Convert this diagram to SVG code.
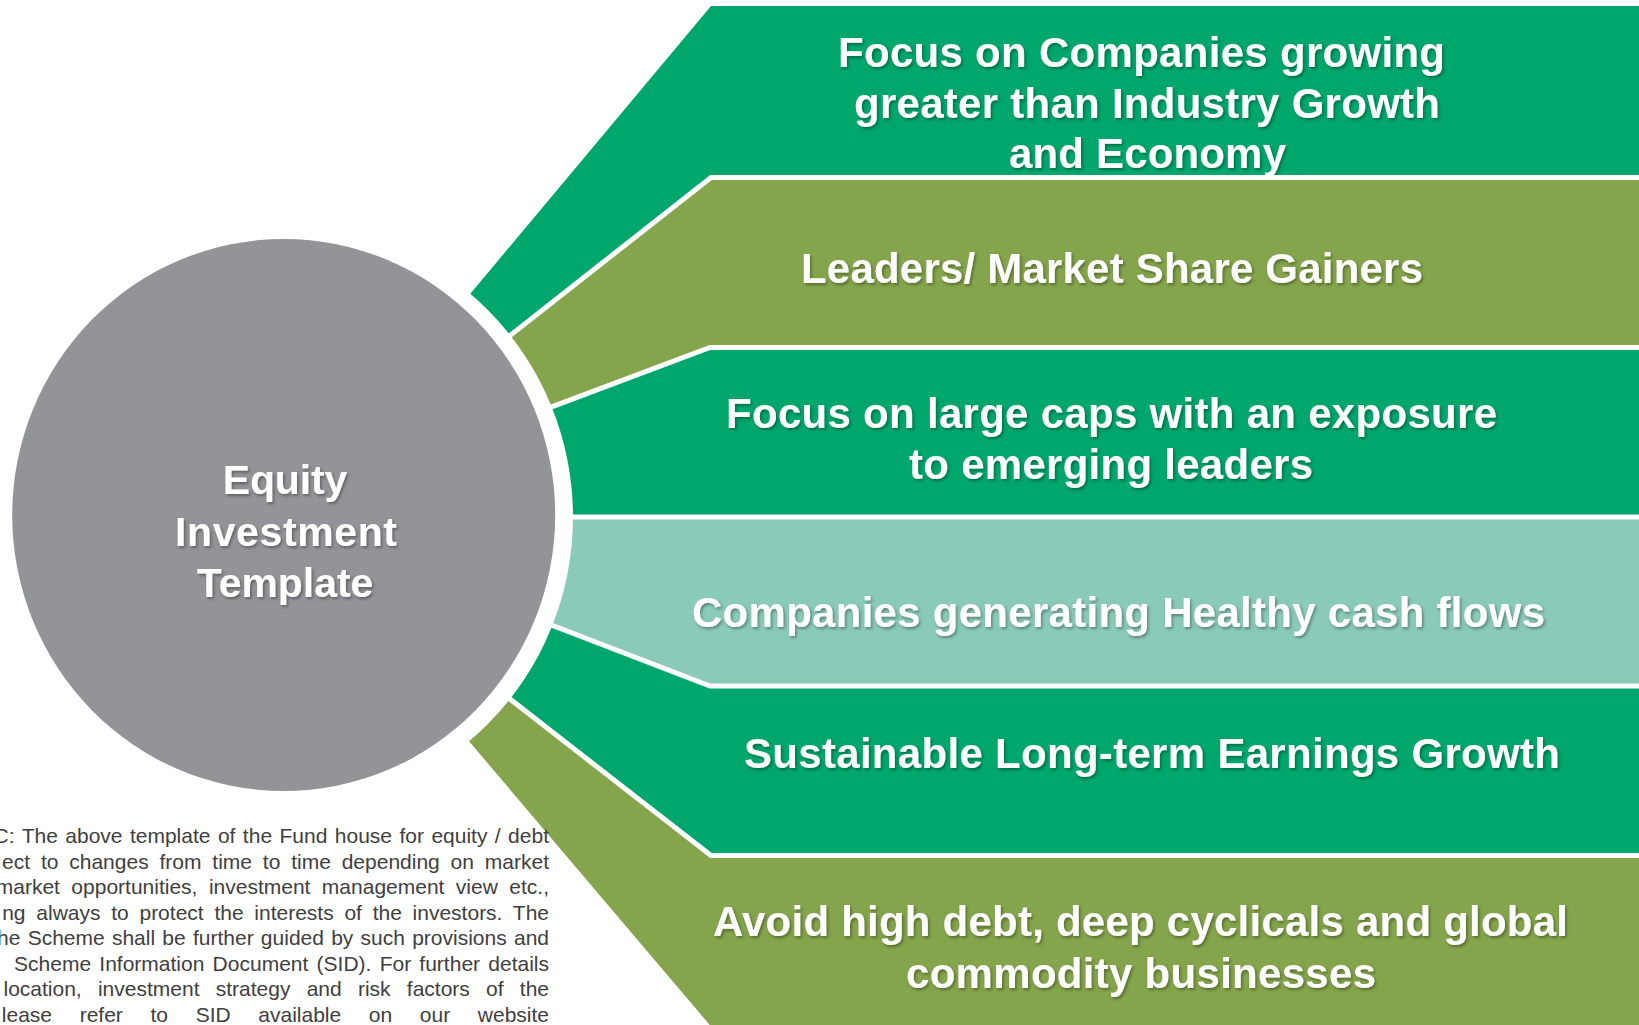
<svg xmlns="http://www.w3.org/2000/svg" width="1639" height="1025" viewBox="0 0 1639 1025">
<defs>
<filter id="sh" x="-5%" y="-20%" width="110%" height="150%">
<feDropShadow dx="1.5" dy="2" stdDeviation="1.5" flood-color="#000" flood-opacity="0.35"/>
</filter>
<style>
.g{fill:#00A76D}
.o{fill:#84A54B}
.t{fill:#8ACAB9}
.lbl{font-family:"Liberation Sans",Arial,sans-serif;font-weight:bold;font-size:42px;fill:#fff;filter:url(#sh)}
.ctr{font-family:"Liberation Sans",Arial,sans-serif;font-weight:bold;font-size:41px;fill:#fff;filter:url(#sh)}
.sep{fill:none;stroke:#fff;stroke-width:5}
.disc{font-family:"Liberation Sans",Arial,sans-serif;font-size:21px;fill:#404040}
</style>
</defs>
<rect width="1639" height="1025" fill="#fff"/>

<g id="band1">
<polygon class="g" points="711,6 1639,6 1639,177.5 711,177.5 330,477 440,330"/>
<text class="lbl" x="838" y="67" textLength="607" lengthAdjust="spacing">Focus on Companies growing</text>
<text class="lbl" x="854" y="118" textLength="586" lengthAdjust="spacing">greater than Industry Growth</text>
<text class="lbl" x="1009" y="168" textLength="277" lengthAdjust="spacing">and Economy</text>
</g>
<g id="band2">
<polygon class="o" points="711,177.5 1639,177.5 1639,347.5 710,347.5 330,490 330,477"/>
<text class="lbl" x="801" y="283" textLength="622" lengthAdjust="spacing">Leaders/ Market Share Gainers</text>
</g>
<g id="band3">
<polygon class="g" points="710,347.5 1639,347.5 1639,517 330,517 330,490"/>
<text class="lbl" x="726" y="428" textLength="771" lengthAdjust="spacing">Focus on large caps with an exposure</text>
<text class="lbl" x="909" y="479" textLength="404" lengthAdjust="spacing">to emerging leaders</text>
</g>
<g id="band4">
<polygon class="t" points="330,517 1639,517 1639,686 710,686 330,540"/>
<text class="lbl" x="692" y="627" textLength="853" lengthAdjust="spacing">Companies generating Healthy cash flows</text>
</g>
<g id="band5">
<polygon class="g" points="710,686 1639,686 1639,855.5 711,855.5 330,559 330,540"/>
<text class="lbl" x="744" y="768" textLength="816" lengthAdjust="spacing">Sustainable Long-term Earnings Growth</text>
</g>
<g id="band6">
<polygon class="o" points="711,855.5 1639,855.5 1639,1030 714,1030 440,707 330,559"/>
<text class="lbl" x="713" y="936" textLength="855" lengthAdjust="spacing">Avoid high debt, deep cyclicals and global</text>
<text class="lbl" x="906" y="988" textLength="470" lengthAdjust="spacing">commodity businesses</text>
</g>

<g id="separators">
<polyline class="sep" points="1645,177.5 711,177.5 330,477"/>
<polyline class="sep" points="1645,347.5 710,347.5 330,490"/>
<polyline class="sep" points="1645,517 330,517"/>
<polyline class="sep" points="1645,686 710,686 330,540"/>
<polyline class="sep" points="1645,855.5 711,855.5 330,559"/>
</g>

<g id="center">
<ellipse cx="284" cy="517" rx="289" ry="292" fill="#fff"/>
<ellipse cx="283.7" cy="515" rx="271.5" ry="276" fill="#939498"/>
<text class="ctr" x="222.7" y="494" textLength="124.7" lengthAdjust="spacing">Equity</text>
<text class="ctr" x="175" y="546" textLength="222" lengthAdjust="spacing">Investment</text>
<text class="ctr" x="196.7" y="597" textLength="176.6" lengthAdjust="spacing">Template</text>
</g>

<g id="disclaimer" class="disc" text-anchor="end">
<text x="549" y="843" word-spacing="1.6">C: The above template of the Fund house for equity / debt</text>
<text x="549" y="868.5" word-spacing="5">ect to changes from time to time depending on market</text>
<text x="549" y="894" word-spacing="5.6">market opportunities, investment management view etc.,</text>
<text x="549" y="919.5" word-spacing="4.9">ng always to protect the interests of the investors. The</text>
<text x="549" y="945" word-spacing="1.4">he Scheme shall be further guided by such provisions and</text>
<text x="549" y="970.5" word-spacing="2.4">Scheme Information Document (SID). For further details</text>
<text x="549" y="996" word-spacing="10.4">location, investment strategy and risk factors of the</text>
<text x="549" y="1021.5" word-spacing="21.8">lease refer to SID available on our website</text>
</g>
</svg>
